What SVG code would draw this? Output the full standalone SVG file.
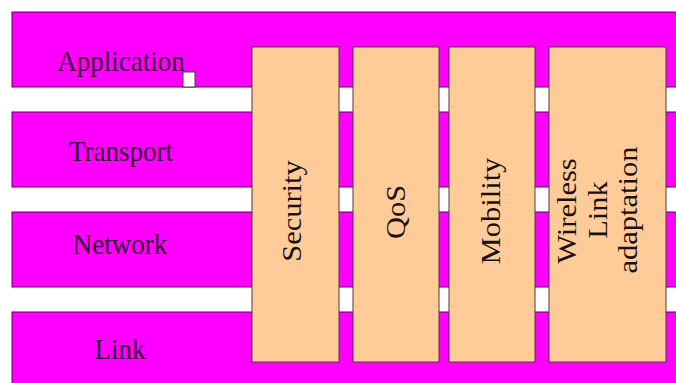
<svg xmlns="http://www.w3.org/2000/svg" width="676" height="383" viewBox="0 0 676 383">
  <style>
    .band { fill: #ff00ff; stroke: #5a005a; stroke-width: 1; }
    .box { fill: #ffcc99; stroke: #4a3a3a; stroke-width: 1; }
    .lbl { font-family: "Liberation Serif", "Times New Roman", serif; font-size: 27px; fill: #330033; text-anchor: middle; }
    .vlbl { font-family: "Liberation Serif", "Times New Roman", serif; font-size: 27px; fill: #1a1010; text-anchor: middle; }
  </style>
  <rect width="676" height="383" fill="#ffffff"/>

  <!-- protocol layers -->
  <g id="layer-application">
    <rect class="band" x="12" y="12" width="680" height="75"/>
    <text class="lbl" transform="translate(121,71) scale(1,1.13)">Application</text>
    <rect x="183" y="72" width="12" height="15" fill="#ffffff" stroke="#4a3a4a" stroke-width="1"/>
  </g>
  <g id="layer-transport">
    <rect class="band" x="12" y="112" width="680" height="75"/>
    <text class="lbl" transform="translate(121,161) scale(1,1.13)">Transport</text>
  </g>
  <g id="layer-network">
    <rect class="band" x="12" y="212" width="680" height="75"/>
    <text class="lbl" transform="translate(120,254) scale(1,1.13)">Network</text>
  </g>
  <g id="layer-link">
    <rect class="band" x="12" y="312" width="680" height="80"/>
    <text class="lbl" transform="translate(120,359) scale(1,1.13)">Link</text>
  </g>

  <!-- cross-layer functions -->
  <g id="security">
    <rect class="box" x="252" y="47" width="87" height="315"/>
    <text class="vlbl" transform="translate(301,211) scale(1,1.13) rotate(-90)">Security</text>
  </g>
  <g id="qos">
    <rect class="box" x="353" y="47" width="86" height="315"/>
    <text class="vlbl" transform="translate(405,212) scale(1,1.13) rotate(-90)">QoS</text>
  </g>
  <g id="mobility">
    <rect class="box" x="449" y="47" width="86" height="315"/>
    <text class="vlbl" transform="translate(500,211) scale(1,1.13) rotate(-90)">Mobility</text>
  </g>
  <g id="wireless-link-adaptation">
    <rect class="box" x="549" y="47" width="117" height="315"/>
    <text class="vlbl" transform="translate(576,211) scale(1,1.13) rotate(-90)">Wireless</text>
    <text class="vlbl" transform="translate(607,210) scale(1,1.13) rotate(-90)">Link</text>
    <text class="vlbl" transform="translate(637,210) scale(1,1.13) rotate(-90)">adaptation</text>
  </g>

  <g id="connectors"></g>
</svg>
